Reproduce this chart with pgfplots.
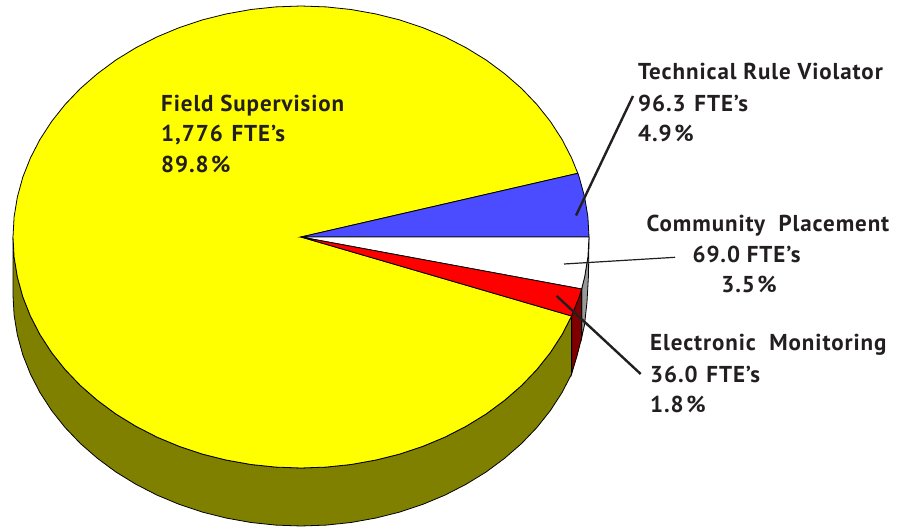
\documentclass[border=0pt]{standalone}
\usepackage{fontspec}
\setmainfont[LetterSpace=4]{PT Sans}
\usepackage{pgfplots}
\pgfplotsset{compat=1.18}
\definecolor{pieyellow}{HTML}{FFFF00}
\definecolor{pieolive}{HTML}{808000}
\definecolor{pieblue}{HTML}{4B4BFF}
\definecolor{piered}{HTML}{FF0000}
\definecolor{piedarkred}{HTML}{800000}
\definecolor{piegray}{HTML}{999999}
\definecolor{labelink}{HTML}{231F20}
\newcommand{\pct}{\kern2.5pt\%}
\newcommand{\gap}{\kern2pt\ }
\tikzset{
    lbl/.style={anchor=base west, inner sep=0pt, text=labelink,
        font=\fontsize{23}{28}\selectfont\bfseries},
    lblc/.style={anchor=base, inner sep=0pt, text=labelink,
        font=\fontsize{23}{28}\selectfont\bfseries},
}
\begin{document}
\begin{tikzpicture}
\begin{axis}[
    width=911pt, height=527pt, scale only axis,
    xmin=0, xmax=911, ymin=0, ymax=527,
    y dir=reverse,
    hide axis,
    clip=false,
    every axis plot/.append style={line width=0.8pt, draw=black},
]
% keeps the page at the full 911x527
\addplot[draw=none, line width=0pt] coordinates {(0,0) (911,527)};
% side wall of the big slice
\addplot[fill=pieolive] coordinates {
 (13,237) (14.1,257.1) (17.4,277.1) (22.8,296.8) (30.4,316) (40,334.6) (51.6,352.5) (65.1,369.5)
 (80.4,385.5) (97.4,400.3) (115.9,414) (135.8,426.2) (157,437.1) (179.3,446.4) (202.5,454.1)
 (226.5,460.1) (251,464.5) (275.9,467.1) (301,468) (326.1,467.1) (351,464.5) (375.5,460.1)
 (399.5,454.1) (422.7,446.4) (445,437.1) (466.2,426.2) (486.1,414) (504.6,400.3) (521.6,385.5)
 (536.9,369.5) (550.4,352.5) (562,334.6) (571.6,316)
 (571.6,374) (562,392.6) (550.4,410.5) (536.9,427.5) (521.6,443.5) (504.6,458.3) (486.1,472)
 (466.2,484.2) (445,495.1) (422.7,504.4) (399.5,512.1) (375.5,518.1) (351,522.5) (326.1,525.1)
 (301,526) (275.9,525.1) (251,522.5) (226.5,518.1) (202.5,512.1) (179.3,504.4) (157,495.1)
 (135.8,484.2) (115.9,472) (97.4,458.3) (80.4,443.5) (65.1,427.5) (51.6,410.5) (40,392.6)
 (30.4,374) (22.8,354.8) (17.4,335.1) (14.1,315.1) (13,295)
} --cycle;
% side walls on the right
\addplot[fill=piegray] coordinates {
 (589,237) (587.9,257.1) (584.6,277.1) (581.6,289) (581.6,338) (584.5,325) (587,302) (588.5,275)
} --cycle;
\addplot[fill=piedarkred] coordinates {
 (581.6,289) (579.2,296.8) (571.6,316) (571.6,374) (577,356) (581.6,338)
} --cycle;
% Field Supervision 1,776 FTE's
\addplot[fill=pieyellow] coordinates {
 (301,237) (577.8,173.3) (571.6,158) (562,139.4) (550.4,121.5) (536.9,104.5) (521.6,88.5)
 (504.6,73.7) (486.1,60) (466.2,47.8) (445,36.9) (422.7,27.6) (399.5,19.9) (375.5,13.9)
 (351,9.5) (326.1,6.9) (301,6) (275.9,6.9) (251,9.5) (226.5,13.9) (202.5,19.9) (179.3,27.6)
 (157,36.9) (135.8,47.8) (115.9,60) (97.4,73.7) (80.4,88.5) (65.1,104.5) (51.6,121.5)
 (40,139.4) (30.4,158) (22.8,177.2) (17.4,196.9) (14.1,216.9) (13,237) (14.1,257.1)
 (17.4,277.1) (22.8,296.8) (30.4,316) (40,334.6) (51.6,352.5) (65.1,369.5) (80.4,385.5)
 (97.4,400.3) (115.9,414) (135.8,426.2) (157,437.1) (179.3,446.4) (202.5,454.1) (226.5,460.1)
 (251,464.5) (275.9,467.1) (301,468) (326.1,467.1) (351,464.5) (375.5,460.1) (399.5,454.1)
 (422.7,446.4) (445,437.1) (466.2,426.2) (486.1,414) (504.6,400.3) (521.6,385.5) (536.9,369.5)
 (550.4,352.5) (562,334.6) (571.6,316)
} --cycle;
% Technical Rule Violator 96.3
\addplot[fill=pieblue] coordinates {
 (301,237) (577.8,173.3) (579.2,177.2) (584.6,196.9) (587.9,216.9) (589,237)
} --cycle;
% Community Placement 69.0
\addplot[fill=white] coordinates {
 (301,237) (589,237) (587.9,257.1) (584.6,277.1) (581.6,289)
} --cycle;
% Electronic Monitoring 36.0
\addplot[fill=piered] coordinates {
 (301,237) (581.6,289) (579.2,296.8) (571.6,316)
} --cycle;
% leader lines
\addplot[draw=labelink, line width=2.4pt] coordinates {(576,215.5) (633,96)};
\addplot[draw=labelink, line width=1.2pt] coordinates {(564,264) (675,257.3)};
\addplot[draw=labelink, line width=2.4pt] coordinates {(556.7,296) (640.7,374)};
% labels
\node[lbl] at (axis cs:161,111) {Field Supervision};
\node[lbl] at (axis cs:161,142) {1,776\gap FTE’s};
\node[lbl] at (axis cs:161,172) {89.8\pct};
\node[lbl] at (axis cs:638,80) {Technical Rule Violator};
\node[lbl] at (axis cs:638,111) {96.3\gap FTE’s};
\node[lbl] at (axis cs:638,142) {4.9\pct};
\node[lblc] at (axis cs:768,231) {Community\ \ Placement};
\node[lblc] at (axis cs:746.5,262) {69.0 FTE’s};
\node[lblc] at (axis cs:749,292) {3.5\pct};
\node[lbl] at (axis cs:650,350) {Electronic\ \ Monitoring};
\node[lbl] at (axis cs:650,382) {36.0\gap FTE’s};
\node[lbl] at (axis cs:650,412) {1.8\pct};
\end{axis}
\end{tikzpicture}
\end{document}
